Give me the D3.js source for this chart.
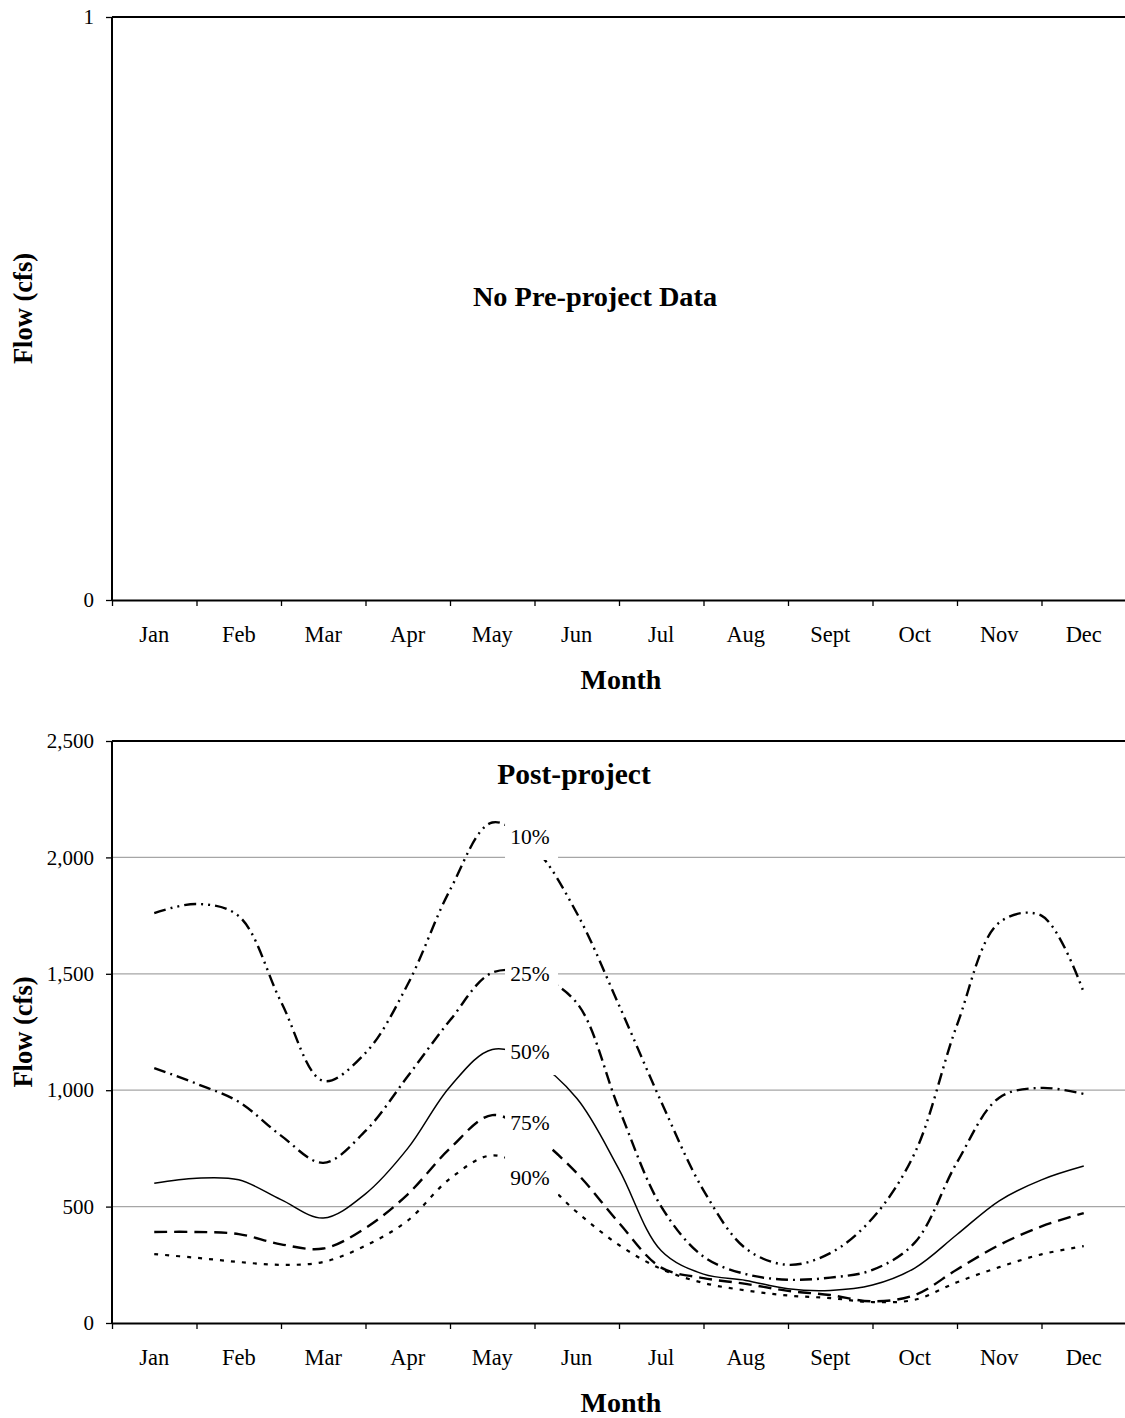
<!DOCTYPE html>
<html>
<head>
<meta charset="utf-8">
<script src="https://cdn.jsdelivr.net/npm/d3@7"></script>
<style>
  html, body { margin: 0; padding: 0; background: #fff; }
  svg { display: block; font-family: "Liberation Serif", "Times New Roman", serif; }
</style>
</head>
<body>
<svg id="chart" width="1125" height="1418"></svg>
<script>
// ---------- data ----------
const months = ["Jan","Feb","Mar","Apr","May","Jun","Jul","Aug","Sept","Oct","Nov","Dec"];
// x positions in month units (0 = start of Jan), half-month steps from mid-Jan to mid-Dec
const xMonths = [0.5,1.0,1.5,2.0,2.5,3.0,3.5,4.0,4.5,5.0,5.5,6.0,6.5,7.0,7.5,8.0,8.5,9.0,9.5,10.0,10.5,11.0,11.5];

const p10 = [1761,1800,1748,1380,1040,1160,1455,1860,2150,2040,1761,1365,950,570,320,250,300,450,730,1280,1720,1750,1420];
const p25 = [1095,1028,950,805,688,825,1060,1300,1505,1495,1375,920,500,285,210,186,195,228,345,690,968,1010,984];
const p50 = [600,622,615,530,451,555,750,1015,1175,1125,965,660,310,210,183,147,140,163,236,380,525,615,674];
const p75 = [391,391,382,338,320,408,553,750,893,805,644,430,238,193,168,138,120,93,120,230,335,415,472];
const p90 = [296,280,262,250,262,332,440,620,720,640,477,335,232,172,140,118,107,90,100,175,240,295,330];

const seriesNames = ["10%","25%","50%","75%","90%"];
const seriesValues = [p10, p25, p50, p75, p90];
// value at which each percentile label is centred (flow units) and its month position
const labelValues = [2092, 1503, 1168, 863, 627];
const labelMonth = 4.947;

const topTicks = [0, 1];
const bottomTicks = [0, 500, 1000, 1500, 2000, 2500];

// ---------- styles ----------
const dashes = ["12,5,2,5,2,5", "12,5,2,5", null, "13,7", "4,7"];
const widths = [2.4, 2.4, 1.5, 2.4, 2.2];

const svg = d3.select("#chart");
const L = 112, R = 1126;
const x = d3.scaleLinear().domain([0, 12]).range([L, R]);

function panel(top, bottom, yDomain, ticks, fmt) {
  const y = d3.scaleLinear().domain(yDomain).range([bottom, top]);
  const g = svg.append("g");

  // gridlines (only inner values)
  g.append("g").selectAll("line")
    .data(ticks.filter(t => t !== yDomain[0] && t !== yDomain[1]))
    .join("line")
    .attr("x1", L).attr("x2", R)
    .attr("y1", d => y(d)).attr("y2", d => y(d))
    .attr("stroke", "#a6a6a6").attr("stroke-width", 1.2);

  // y axis
  const yAxis = d3.axisLeft(y).tickValues(ticks).tickFormat(fmt).tickSize(6).tickPadding(12);
  const ya = g.append("g").attr("transform", `translate(${L},0)`).call(yAxis);
  ya.select(".domain").remove();
  ya.selectAll(".tick line").attr("stroke", "#000").attr("stroke-width", 1.3);
  ya.selectAll(".tick text").attr("font-size", 21).attr("font-family", "Liberation Serif").attr("fill", "#000");

  // plot border top + left
  g.append("line").attr("x1", L).attr("x2", R).attr("y1", top).attr("y2", top)
    .attr("stroke", "#000").attr("stroke-width", 2);
  g.append("line").attr("x1", L).attr("x2", L).attr("y1", top).attr("y2", bottom)
    .attr("stroke", "#000").attr("stroke-width", 2);

  // x axis: ticks at month boundaries, labels centred
  const xAxis = d3.axisBottom(x).tickValues(d3.range(0, 13)).tickFormat("").tickSize(6).tickSizeOuter(0);
  const xa = g.append("g").attr("transform", `translate(0,${bottom})`).call(xAxis);
  xa.select(".domain").attr("stroke", "#000").attr("stroke-width", 2.2);
  xa.selectAll(".tick line").attr("stroke", "#000").attr("stroke-width", 1.3);

  g.append("g").selectAll("text").data(months).join("text")
    .attr("x", (d, i) => x(i + 0.5)).attr("y", bottom + 42)
    .attr("text-anchor", "middle").attr("font-size", 22.5).attr("fill", "#000")
    .text(d => d);

  g.append("text").attr("x", (L + R) / 2 + 2).attr("y", bottom + 89)
    .attr("text-anchor", "middle").attr("font-size", 28).attr("font-weight", "bold")
    .text("Month");

  g.append("text")
    .attr("transform", `translate(32,${(top + bottom) / 2}) rotate(-90)`)
    .attr("text-anchor", "middle").attr("font-size", 26.5).attr("font-weight", "bold")
    .text("Flow (cfs)");

  return {g, y};
}

// ---------- top panel ----------
const topP = panel(17, 600, [0, 1], topTicks, d3.format("d"));
topP.g.append("text").attr("x", 595).attr("y", 306)
  .attr("text-anchor", "middle").attr("font-size", 28.3).attr("font-weight", "bold")
  .text("No Pre-project Data");

// ---------- bottom panel ----------
const botP = panel(741, 1323, [0, 2500], bottomTicks, d3.format(","));
const yb = botP.y;

botP.g.append("text").attr("x", 574).attr("y", 784)
  .attr("text-anchor", "middle").attr("font-size", 29.5).attr("font-weight", "bold")
  .text("Post-project");

const line = d3.line()
  .x((d, i) => x(xMonths[i]))
  .y(d => yb(d))
  .curve(d3.curveCatmullRom.alpha(0.5));

botP.g.append("g").selectAll("path").data(seriesValues).join("path")
  .attr("d", d => line(d))
  .attr("fill", "none")
  .attr("stroke", "#000")
  .attr("stroke-width", (d, i) => widths[i])
  .attr("stroke-dasharray", (d, i) => dashes[i]);

// percentile labels with white boxes
const lab = botP.g.append("g").selectAll("g").data(seriesNames).join("g")
  .attr("transform", (d, i) => `translate(${x(labelMonth)},${yb(labelValues[i])})`);
lab.append("rect").attr("x", -25).attr("y", -21).attr("width", 53).attr("height", 45).attr("fill", "#fff");
lab.append("text").attr("text-anchor", "middle").attr("dy", "0.35em")
  .attr("font-size", 21.5).attr("fill", "#000").text(d => d);
</script>
</body>
</html>
